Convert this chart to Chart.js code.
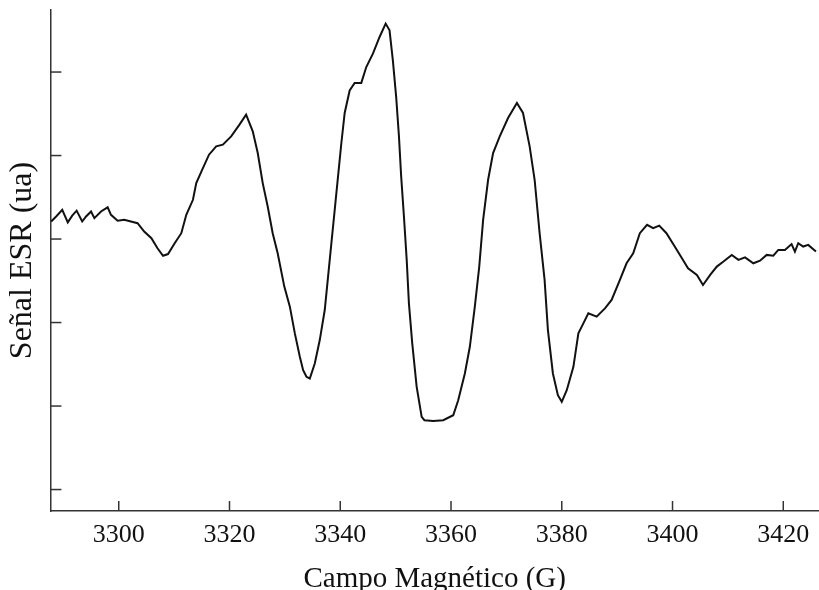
<!DOCTYPE html>
<html>
<head>
<meta charset="utf-8">
<script src="https://cdn.jsdelivr.net/npm/chart.js@4.4.1/dist/chart.umd.min.js"></script>
<style>
  body { margin: 0; background: #fff; }
  #caja { width: 819px; height: 590px; }
</style>
</head>
<body>
<div id="caja"><canvas id="GraficoESR"></canvas></div>
<script>
var campo = [3287.8, 3288.7, 3289.8, 3290.8, 3291.6, 3292.4, 3293.4, 3294.1, 3295.0, 3295.6,
    3296.8, 3298.0, 3298.6, 3299.8, 3301.0, 3302.2, 3303.4, 3304.6, 3305.9, 3307.0,
    3308.0, 3308.9, 3310.1, 3311.3, 3312.2, 3313.4, 3314.0, 3315.2, 3316.3, 3317.6,
    3318.8, 3320.3, 3321.8, 3323.0, 3324.2, 3325.1, 3326.0, 3326.9, 3327.8, 3328.7,
    3329.9, 3330.9, 3331.8, 3332.7, 3333.3, 3333.9, 3334.5, 3335.4, 3336.3, 3337.2,
    3337.8, 3338.4, 3339.0, 3339.6, 3340.2, 3340.8, 3341.7, 3342.6, 3343.8, 3344.7,
    3345.9, 3347.1, 3348.2, 3348.9, 3349.5, 3350.1, 3350.6, 3351.0, 3351.5, 3352.0,
    3352.4, 3353.0, 3353.8, 3354.7, 3355.2, 3356.8, 3358.6, 3360.4, 3361.3, 3362.5,
    3363.4, 3364.3, 3365.1, 3365.8, 3366.7, 3367.6, 3368.8, 3370.3, 3371.9, 3373.0,
    3374.2, 3375.1, 3376.0, 3376.9, 3377.5, 3378.4, 3379.3, 3380.0, 3380.9, 3382.1,
    3383.0, 3383.9, 3384.8, 3386.3, 3387.8, 3389.0, 3390.5, 3391.7, 3392.9, 3394.1,
    3395.4, 3396.5, 3397.6, 3398.9, 3400.4, 3401.7, 3402.8, 3404.4, 3405.5, 3406.8,
    3408.0, 3409.2, 3410.7, 3411.9, 3413.1, 3414.6, 3415.8, 3417.0, 3418.2, 3419.1,
    3420.3, 3421.5, 3422.1, 3422.7, 3423.6, 3424.5, 3425.9];

// senal ESR (unidades arbitrarias)
var senal = [0.21, 0.27, 0.35, 0.20, 0.28, 0.34, 0.21, 0.27, 0.33, 0.25,
    0.33, 0.38, 0.29, 0.22, 0.23, 0.21, 0.19, 0.09, 0.01, -0.11,
    -0.20, -0.18, -0.05, 0.07, 0.29, 0.47, 0.67, 0.85, 1.01, 1.11,
    1.13, 1.23, 1.37, 1.49, 1.29, 1.03, 0.67, 0.39, 0.07, -0.17,
    -0.57, -0.81, -1.13, -1.41, -1.57, -1.65, -1.67, -1.49, -1.21, -0.85,
    -0.45, -0.05, 0.35, 0.75, 1.15, 1.51, 1.78, 1.87, 1.87, 2.06,
    2.22, 2.42, 2.58, 2.50, 2.14, 1.70, 1.23, 0.75, 0.27, -0.25,
    -0.77, -1.25, -1.77, -2.13, -2.17, -2.18, -2.17, -2.11, -1.93, -1.61,
    -1.29, -0.81, -0.33, 0.23, 0.71, 1.03, 1.23, 1.45, 1.63, 1.51,
    1.11, 0.71, 0.07, -0.49, -1.09, -1.61, -1.87, -1.95, -1.81, -1.53,
    -1.13, -1.01, -0.89, -0.93, -0.83, -0.73, -0.49, -0.29, -0.17, 0.07,
    0.17, 0.13, 0.16, 0.07, -0.09, -0.23, -0.35, -0.43, -0.55, -0.43,
    -0.33, -0.27, -0.19, -0.25, -0.22, -0.29, -0.26, -0.19, -0.20, -0.13,
    -0.13, -0.06, -0.15, -0.05, -0.09, -0.07, -0.15];

var ticksCampo = [3300, 3320, 3340, 3360, 3380, 3400, 3420];
var ticksSenal = [-3, -2, -1, 0, 1, 2];

var puntos = campo.map(function (c, i) { return { x: c, y: senal[i] }; });

// marcas de los ejes hacia dentro
var marcasInternas = {
    id: 'marcasInternas',
    afterDatasetsDraw: function (chart) {
        var ctx = chart.ctx, area = chart.chartArea;
        var ex = chart.scales.x, ey = chart.scales.y;
        ctx.save();
        ctx.strokeStyle = '#333';
        ctx.lineWidth = 1.5;
        ex.ticks.forEach(function (t) {
            var px = ex.getPixelForValue(t.value);
            ctx.beginPath();
            ctx.moveTo(px, area.bottom);
            ctx.lineTo(px, area.bottom - 10);
            ctx.stroke();
        });
        ey.ticks.forEach(function (t) {
            var py = ey.getPixelForValue(t.value);
            ctx.beginPath();
            ctx.moveTo(area.left, py);
            ctx.lineTo(area.left + 11, py);
            ctx.stroke();
        });
        ctx.restore();
    }
};

new Chart(document.getElementById("GraficoESR"), {
    type: 'line',
    data: {
        datasets: [{
            label: "Señal ESR",
            data: puntos,
            borderColor: "#111",
            borderWidth: 2,
            pointRadius: 0,
            tension: 0,
            fill: false
        }]
    },
    options: {
        responsive: true,
        maintainAspectRatio: false,
        animation: false,
        layout: { padding: { top: 10, right: 0, left: 0, bottom: 0 } },
        plugins: {
            legend: { display: false },
            tooltip: { enabled: false }
        },
        scales: {
            x: {
                type: 'linear',
                position: 'bottom',
                min: 3287.66,
                max: 3426.45,
                afterBuildTicks: function (scale) {
                    scale.ticks = ticksCampo.map(function (v) { return { value: v }; });
                },
                grid: { display: false, drawTicks: false },
                border: { display: true, color: '#333', width: 1.5 },
                ticks: {
                    padding: 9,
                    color: '#111',
                    font: { family: 'Liberation Serif', size: 26 },
                    callback: function (v) { return String(v); }
                },
                title: {
                    display: true,
                    text: 'Campo Magnético (G)',
                    color: '#111',
                    font: { family: 'Liberation Serif', size: 29 },
                    padding: { top: 2, bottom: -7 }
                }
            },
            y: {
                type: 'linear',
                min: -3.257,
                max: 2.743,
                afterBuildTicks: function (scale) {
                    scale.ticks = ticksSenal.map(function (v) { return { value: v }; });
                },
                grid: { display: false, drawTicks: false },
                border: { display: true, color: '#333', width: 1.5 },
                ticks: { display: false },
                title: {
                    display: true,
                    text: 'Señal ESR (ua)',
                    color: '#111',
                    font: { family: 'Liberation Serif', size: 32 },
                    padding: { top: 3, bottom: 9 }
                }
            }
        }
    },
    plugins: [marcasInternas]
});
</script>
</body>
</html>
